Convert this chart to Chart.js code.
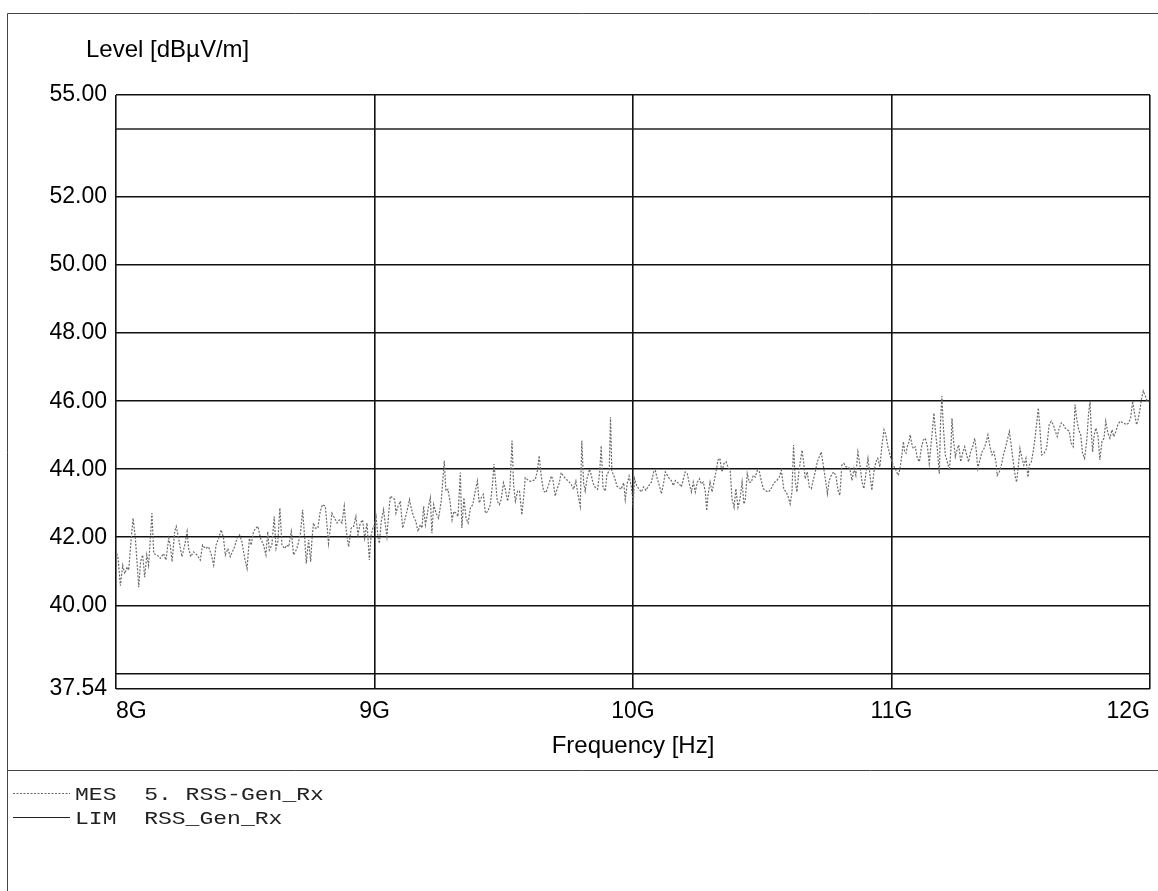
<!DOCTYPE html>
<html>
<head>
<meta charset="utf-8">
<title>Level vs Frequency</title>
<script src="https://cdn.jsdelivr.net/npm/chart.js@4.4.1/dist/chart.umd.min.js"></script>
<style>
  html, body { margin: 0; padding: 0; background: #fff; }
  canvas { display: block; }
</style>
</head>
<body>
<canvas id="emiChart" width="1158" height="891"></canvas>
<script>
// MES trace: frequency in GHz, level in dBuV/m
const mesFreq = [
  8.000,8.008,8.017,8.026,8.034,8.043,8.049,8.059,
  8.066,8.075,8.088,8.095,8.103,8.111,8.119,8.126,
  8.133,8.139,8.146,8.159,8.171,8.184,8.193,8.204,
  8.210,8.217,8.227,8.233,8.242,8.255,8.266,8.275,
  8.281,8.289,8.300,8.313,8.326,8.335,8.345,8.358,
  8.369,8.378,8.387,8.397,8.407,8.416,8.423,8.433,
  8.442,8.459,8.468,8.478,8.487,8.498,8.507,8.516,
  8.523,8.532,8.541,8.549,8.559,8.571,8.580,8.587,
  8.593,8.603,8.612,8.619,8.626,8.634,8.642,8.652,
  8.661,8.668,8.678,8.687,8.700,8.713,8.722,8.730,
  8.736,8.745,8.753,8.758,8.764,8.771,8.781,8.790,
  8.799,8.810,8.816,8.822,8.829,8.835,8.846,8.855,
  8.864,8.874,8.883,8.891,8.900,8.910,8.919,8.928,
  8.936,8.945,8.954,8.962,8.971,8.980,8.987,8.994,
  8.997,9.006,9.014,9.019,9.026,9.035,9.042,9.048,
  9.055,9.061,9.070,9.078,9.083,9.091,9.100,9.109,
  9.119,9.130,9.135,9.142,9.151,9.160,9.168,9.177,
  9.184,9.190,9.197,9.203,9.209,9.216,9.222,9.229,
  9.238,9.248,9.258,9.264,9.270,9.276,9.284,9.292,
  9.300,9.307,9.315,9.323,9.332,9.338,9.346,9.354,
  9.362,9.371,9.380,9.390,9.398,9.405,9.413,9.421,
  9.429,9.438,9.448,9.457,9.462,9.467,9.475,9.483,
  9.490,9.499,9.506,9.515,9.524,9.532,9.538,9.545,
  9.554,9.561,9.570,9.578,9.583,9.591,9.599,9.609,
  9.622,9.630,9.637,9.645,9.654,9.663,9.674,9.684,
  9.690,9.699,9.706,9.715,9.722,9.731,9.741,9.751,
  9.761,9.770,9.779,9.787,9.796,9.802,9.809,9.815,
  9.823,9.832,9.838,9.845,9.854,9.863,9.871,9.877,
  9.884,9.893,9.899,9.908,9.913,9.918,9.929,9.938,
  9.947,9.954,9.964,9.970,9.978,9.985,9.993,9.999,
  10.000,10.006,10.014,10.022,10.032,10.041,10.050,10.061,
  10.071,10.080,10.086,10.094,10.102,10.110,10.119,10.125,
  10.133,10.141,10.148,10.156,10.164,10.171,10.179,10.187,
  10.195,10.202,10.210,10.218,10.226,10.233,10.241,10.249,
  10.257,10.264,10.272,10.280,10.285,10.290,10.298,10.306,
  10.313,10.321,10.329,10.336,10.344,10.352,10.360,10.367,
  10.376,10.383,10.391,10.398,10.406,10.414,10.422,10.429,
  10.434,10.442,10.450,10.458,10.465,10.473,10.481,10.489,
  10.496,10.504,10.512,10.522,10.531,10.540,10.548,10.557,
  10.566,10.574,10.583,10.592,10.599,10.608,10.615,10.621,
  10.628,10.634,10.641,10.647,10.654,10.660,10.666,10.674,
  10.682,10.690,10.697,10.705,10.713,10.721,10.728,10.736,
  10.744,10.752,10.759,10.767,10.776,10.785,10.793,10.800,
  10.808,10.816,10.824,10.831,10.839,10.847,10.855,10.862,
  10.870,10.878,10.886,10.893,10.901,10.909,10.917,10.924,
  10.932,10.940,10.947,10.955,10.963,10.971,10.978,10.986,
  10.994,
  11.001,11.007,11.017,11.026,11.033,11.041,11.046,11.051,
  11.056,11.061,11.068,11.072,11.078,11.084,11.092,11.100,
  11.108,11.115,11.123,11.131,11.139,11.146,11.154,11.159,
  11.164,11.170,11.177,11.185,11.190,11.195,11.200,11.208,
  11.216,11.224,11.230,11.234,11.239,11.247,11.255,11.260,
  11.268,11.275,11.283,11.291,11.298,11.306,11.314,11.322,
  11.327,11.334,11.342,11.350,11.358,11.365,11.373,11.381,
  11.389,11.396,11.404,11.409,11.417,11.425,11.433,11.440,
  11.448,11.456,11.463,11.471,11.479,11.484,11.491,11.497,
  11.505,11.512,11.520,11.528,11.533,11.541,11.549,11.556,
  11.561,11.568,11.574,11.581,11.590,11.600,11.610,11.618,
  11.626,11.634,11.641,11.649,11.657,11.665,11.672,11.680,
  11.688,11.695,11.703,11.710,11.716,11.724,11.732,11.739,
  11.747,11.755,11.762,11.768,11.773,11.778,11.784,11.791,
  11.799,11.806,11.814,11.822,11.829,11.837,11.845,11.853,
  11.860,11.868,11.876,11.884,11.897,11.909,11.917,11.925,
  11.933,11.940,11.948,11.955,11.961,11.968,11.974,11.982,
  11.989,11.997
];

const mesLevel = [
  41.62,41.38,40.58,41.18,40.93,41.13,41.03,41.97,
  42.56,41.97,40.53,41.28,41.48,40.83,41.48,41.18,
  41.97,42.71,41.52,41.48,41.38,41.52,41.33,41.97,
  41.77,41.28,42.17,42.32,41.97,41.43,41.77,42.17,
  41.67,41.43,41.57,41.48,41.33,41.77,41.67,41.72,
  41.48,41.18,41.77,41.97,42.22,41.97,41.48,41.67,
  41.43,41.72,41.97,42.07,41.87,41.38,41.08,41.97,
  41.77,42.17,42.27,42.32,41.97,41.77,41.48,42.17,
  41.62,41.77,42.61,41.67,41.87,42.86,41.77,41.67,
  41.77,41.72,42.17,41.48,41.67,42.07,42.81,41.97,
  41.23,41.92,41.28,41.92,42.42,42.27,42.27,42.76,
  42.96,42.91,42.37,41.82,42.27,42.71,42.56,42.42,
  42.51,42.42,42.91,42.17,41.72,42.27,42.32,42.61,
  42.07,42.42,42.51,41.97,42.42,41.33,42.07,42.27,
  42.27,42.61,41.97,41.82,42.47,42.81,42.37,42.02,
  42.71,43.21,43.16,43.11,42.71,42.91,43.06,42.27,
  42.56,42.91,43.11,42.86,42.61,42.47,42.17,42.37,
  42.27,42.91,42.37,42.61,42.91,43.16,42.12,42.96,
  42.71,42.56,43.06,43.65,44.25,43.36,43.41,43.06,
  42.51,42.76,42.71,42.61,43.90,42.27,43.16,42.56,
  42.42,42.86,42.96,43.36,43.65,43.01,43.16,43.26,
  42.71,42.76,42.96,43.60,44.15,43.75,43.06,42.96,
  43.11,43.60,43.41,43.06,43.46,44.84,43.55,43.06,
  43.36,43.36,42.66,43.26,43.75,43.70,43.65,43.65,
  43.70,43.95,44.40,43.80,43.36,43.31,43.55,43.80,
  43.70,43.21,43.41,43.60,43.90,43.80,43.70,43.65,
  43.55,43.41,43.65,43.26,42.91,44.84,43.60,43.36,
  43.75,44.00,43.85,43.60,43.46,43.41,43.90,44.69,
  43.46,43.36,43.85,43.95,45.53,43.95,43.75,43.50,
  43.46,43.41,43.60,43.11,43.60,43.80,43.50,43.16,
  42.88,43.72,43.52,43.43,43.33,43.48,43.38,43.52,
  43.62,43.92,43.97,43.72,43.52,43.28,43.62,43.92,
  43.82,43.72,43.67,43.52,43.67,43.62,43.57,43.48,
  43.72,43.92,43.87,43.57,43.33,43.62,43.33,43.62,
  43.72,43.57,43.62,43.33,42.78,43.23,43.62,43.33,
  43.62,43.92,44.27,44.32,43.92,44.17,44.22,44.07,
  43.97,43.13,42.88,43.43,42.88,43.13,43.62,42.98,
  43.08,43.87,43.62,43.62,43.82,43.77,43.97,43.92,
  43.67,43.43,43.38,43.33,43.38,43.52,43.62,43.67,
  43.77,43.97,43.43,43.33,43.23,42.98,43.33,44.71,
  43.62,43.33,43.87,44.22,44.56,44.22,43.72,43.92,
  43.48,43.43,43.67,43.92,44.22,44.37,44.51,44.12,
  43.72,43.28,43.67,43.82,43.92,43.82,43.38,43.23,
  44.12,44.17,44.07,44.07,44.02,43.67,44.02,43.82,
  44.51,44.12,43.62,43.43,43.87,44.32,43.82,43.38,
  43.92,44.22,44.32,44.07,44.71,45.16,45.01,44.66,
  44.42,
  44.22,44.12,43.97,43.82,44.02,44.47,44.81,44.51,
  44.47,44.66,44.81,45.01,44.76,44.61,44.66,44.32,
  44.22,44.61,44.86,44.91,44.66,44.17,44.81,45.21,
  45.65,45.11,44.61,43.87,45.46,46.15,45.31,44.42,
  44.22,43.97,44.61,45.50,44.91,44.37,44.61,44.71,
  44.22,44.47,44.66,44.42,44.22,44.51,44.66,44.91,
  44.61,44.02,44.27,44.51,44.61,44.76,45.01,44.66,
  44.42,44.51,44.22,43.82,43.92,44.12,44.42,44.61,
  44.86,45.11,44.71,44.22,43.77,43.62,44.12,44.61,
  44.32,44.12,44.32,43.77,44.12,44.22,44.56,44.96,
  45.31,45.80,45.21,44.42,44.47,44.61,45.31,45.41,
  45.31,45.11,44.96,45.21,45.36,45.31,45.21,45.16,
  45.11,44.76,44.66,45.90,45.50,45.16,45.01,44.47,
  44.32,44.81,45.60,46.00,45.11,44.51,45.01,45.21,
  44.96,44.27,44.81,44.91,45.41,45.06,44.91,45.16,
  44.96,45.11,45.31,45.41,45.36,45.31,45.36,45.50,
  46.00,45.65,45.31,45.50,45.75,46.10,46.30,46.15,
  46.00,46.00
];

// LIM line
const limFreq = [8, 12];
const limLevel = [54, 54];

// axes
const yTickValues = [55, 54, 52, 50, 48, 46, 44, 42, 40, 38, 37.54];
const yTickLabels = ['55.00', '', '52.00', '50.00', '48.00', '46.00', '44.00', '42.00', '40.00', '', '37.54'];
const xTickValues = [8, 9, 10, 11, 12];
const xTickLabels = ['8G', '9G', '10G', '11G', '12G'];
const yTitle = 'Level [dBµV/m]';
const xTitle = 'Frequency [Hz]';

// legend block under the plot
const legendCodes = ['MES', 'LIM'];
const legendNames = ['5. RSS-Gen_Rx', 'RSS_Gen_Rx'];

const sansFont = '"Liberation Sans", Arial, Helvetica, sans-serif';
const monoFont = '"Courier New", "Liberation Mono", monospace';

function toPoints(xs, ys) {
    const n = Math.min(xs.length, ys.length);
    const pts = [];
    for (let i = 0; i < n; i++) pts.push({ x: xs[i], y: ys[i] });
    return pts;
}

// frame, titles, x labels and the legend table
const decorations = {
    id: 'decorations',
    afterDraw(chart) {
        const ctx = chart.ctx;
        const area = chart.chartArea;
        const xs = chart.scales.x;
        ctx.save();

        ctx.strokeStyle = '#444';
        ctx.lineWidth = 1;
        ctx.beginPath();
        ctx.moveTo(7.5, 891);
        ctx.lineTo(7.5, 13.5);
        ctx.lineTo(1158, 13.5);
        ctx.moveTo(7.5, 770.5);
        ctx.lineTo(1158, 770.5);
        ctx.stroke();

        ctx.fillStyle = '#000';
        ctx.textBaseline = 'alphabetic';
        ctx.textAlign = 'left';
        ctx.font = '24px ' + sansFont;
        ctx.fillText(yTitle, 86, 57);

        ctx.font = '23px ' + sansFont;
        xTickValues.forEach((v, i) => {
            const px = xs.getPixelForValue(v);
            ctx.textAlign = i === 0 ? 'left' : (i === xTickValues.length - 1 ? 'right' : 'center');
            ctx.fillText(xTickLabels[i], px, area.bottom + 29);
        });

        ctx.textAlign = 'center';
        ctx.font = '24px ' + sansFont;
        ctx.fillText(xTitle, xs.getPixelForValue(10), area.bottom + 64);

        // legend rows
        chart.data.datasets.forEach((ds, i) => {
            const yLine = 793 + i * 24;
            ctx.save();
            ctx.strokeStyle = ds.borderColor;
            ctx.lineWidth = 1;
            ctx.setLineDash(ds.borderDash || []);
            ctx.beginPath();
            ctx.moveTo(13, yLine + 0.5);
            ctx.lineTo(70, yLine + 0.5);
            ctx.stroke();
            ctx.restore();

            ctx.save();
            ctx.translate(75, yLine + 7);
            ctx.scale(1.28, 1);
            ctx.font = '18px ' + monoFont;
            ctx.fillStyle = '#222';
            ctx.textAlign = 'left';
            ctx.fillText(legendCodes[i] + '  ' + legendNames[i], 0, 0);
            ctx.restore();
        });

        ctx.restore();
    }
};

new Chart(document.getElementById('emiChart'), {
    type: 'line',
    data: {
        datasets: [{
            label: legendCodes[0] + ' ' + legendNames[0],
            data: toPoints(mesFreq, mesLevel),
            borderColor: '#6a6a6a',
            borderWidth: 1.2,
            borderDash: [2, 1.5],
            pointRadius: 0,
            tension: 0
        }, {
            label: legendCodes[1] + ' ' + legendNames[1],
            data: toPoints(limFreq, limLevel),
            borderColor: '#222',
            borderWidth: 1.3,
            pointRadius: 0,
            tension: 0
        }]
    },
    options: {
        responsive: false,
        animation: false,
        devicePixelRatio: 1,
        layout: { padding: { left: 0, right: 8, top: 95, bottom: 122 } },
        plugins: {
            legend: { display: false },
            tooltip: { enabled: false }
        },
        scales: {
            x: {
                type: 'linear',
                min: 8,
                max: 12,
                afterBuildTicks: s => { s.ticks = xTickValues.map(v => ({ value: v })); },
                afterFit: s => { s.height = 80; },
                ticks: { display: false },
                grid: { color: '#111', lineWidth: 1.6, drawTicks: false },
                border: { display: false }
            },
            y: {
                type: 'linear',
                min: 37.54,
                max: 55,
                afterBuildTicks: s => { s.ticks = yTickValues.map(v => ({ value: v })); },
                afterFit: s => { s.width = 116; },
                ticks: {
                    padding: 9,
                    color: '#000',
                    font: { family: sansFont, size: 23 },
                    callback: v => yTickLabels[yTickValues.indexOf(v)]
                },
                grid: {
                    color: '#111',
                    lineWidth: c => (c.tick && c.tick.value === 54) ? 0 : 1.6,
                    drawTicks: false
                },
                border: { display: false }
            }
        }
    },
    plugins: [decorations]
});
</script>
</body>
</html>
